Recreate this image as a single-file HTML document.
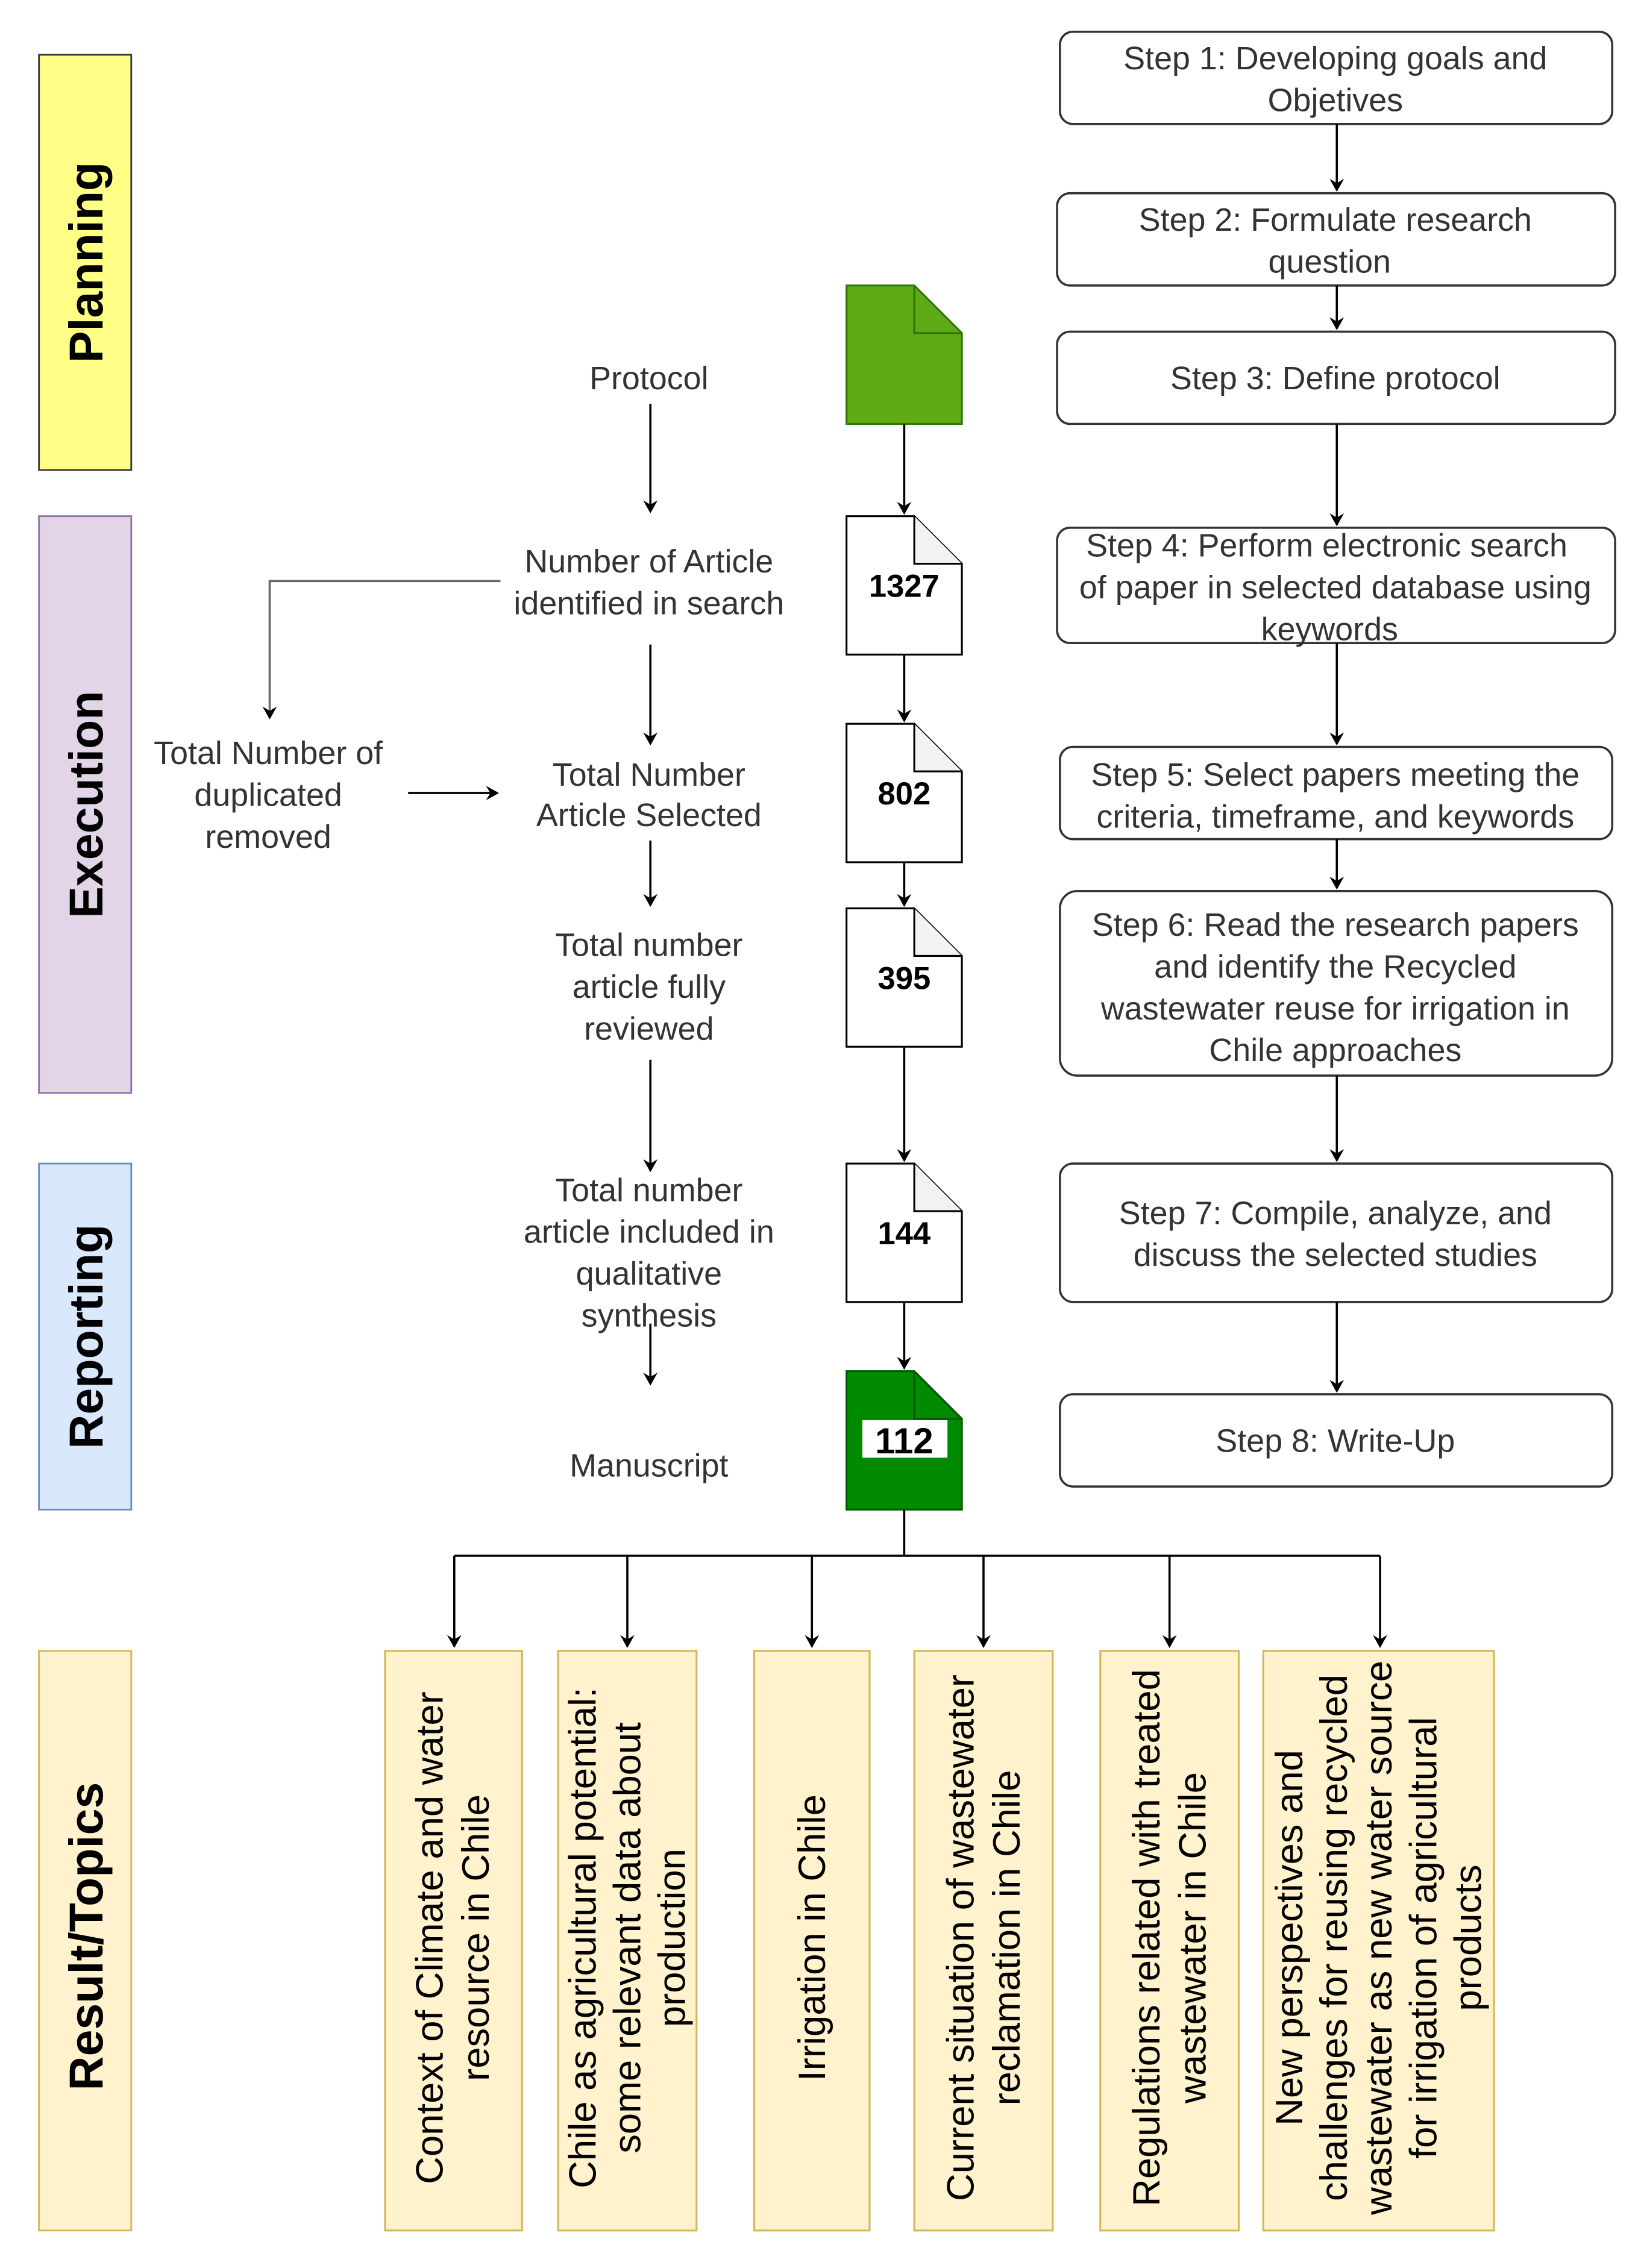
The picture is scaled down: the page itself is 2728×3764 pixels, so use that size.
<!DOCTYPE html>
<html><head><meta charset="utf-8"><style>
html,body{margin:0;padding:0;background:#fff;}
svg{display:block;}
text{font-family:"Liberation Sans",Arial,sans-serif;}
</style></head><body>
<svg width="2728" height="3764" viewBox="0 0 1140 1573" xmlns="http://www.w3.org/2000/svg">
<defs>
<marker id="a" markerWidth="10" markerHeight="10" refX="8" refY="5" orient="auto" markerUnits="userSpaceOnUse">
<path d="M0,0 L9,5 L0,10 L3,5 Z" fill="#000"/>
</marker>
</defs>
<rect width="1140" height="1573" fill="#fff"/>

<rect x="27" y="38" width="64" height="288" fill="#ffff88" stroke="#36393d" stroke-width="1.2"/>
<rect x="27" y="358" width="64" height="400" fill="#e1d5e7" stroke="#9673a6" stroke-width="1.2"/>
<rect x="27" y="807" width="64" height="240" fill="#dae8fc" stroke="#6c8ebf" stroke-width="1.2"/>
<rect x="27" y="1145" width="64" height="402" fill="#fff2cc" stroke="#d6b656" stroke-width="1.2"/>
<g font-weight="bold" font-size="33" fill="#000" text-anchor="middle">
<text transform="translate(71,182) rotate(-90)">Planning</text>
<text transform="translate(71,558) rotate(-90)">Execution</text>
<text transform="translate(71,927) rotate(-90)">Reporting</text>
<text transform="translate(71,1343) rotate(-90)">Result/Topics</text>
</g>

<g fill="#fff" stroke="#333" stroke-width="1.5">
<rect x="735" y="22" width="383" height="64" rx="9"/>
<rect x="733" y="134" width="387" height="64" rx="9"/>
<rect x="733" y="230" width="387" height="64" rx="9"/>
<rect x="733" y="366" width="387" height="80" rx="9"/>
<rect x="735" y="518" width="383" height="64" rx="9"/>
<rect x="735" y="618" width="383" height="128" rx="12"/>
<rect x="735" y="807" width="383" height="96" rx="9"/>
<rect x="735" y="967" width="383" height="64" rx="9"/>
</g>
<g font-size="22.5" fill="#333" text-anchor="middle">
<text x="926" y="48">Step 1: Developing goals and</text>
<text x="926" y="77">Objetives</text>
<text x="926" y="160">Step 2: Formulate research</text>
<text x="922" y="189">question</text>
<text x="926" y="270">Step 3: Define protocol</text>
<text x="920" y="386">Step 4: Perform electronic search</text>
<text x="926" y="415">of paper in selected database using</text>
<text x="922" y="444">keywords</text>
<text x="926" y="545">Step 5: Select papers meeting the</text>
<text x="926" y="574">criteria, timeframe, and keywords</text>
<text x="926" y="649">Step 6: Read the research papers</text>
<text x="926" y="678">and identify the Recycled</text>
<text x="926" y="707">wastewater reuse for irrigation in</text>
<text x="926" y="736">Chile approaches</text>
<text x="926" y="849">Step 7: Compile, analyze, and</text>
<text x="926" y="878">discuss the selected studies</text>
<text x="926" y="1007">Step 8: Write-Up</text>
</g>
<g stroke="#000" stroke-width="1.5" marker-end="url(#a)">
<line x1="927" y1="86" x2="927" y2="132"/>
<line x1="927" y1="198" x2="927" y2="228"/>
<line x1="927" y1="294" x2="927" y2="364"/>
<line x1="927" y1="446" x2="927" y2="516"/>
<line x1="927" y1="582" x2="927" y2="616"/>
<line x1="927" y1="746" x2="927" y2="805"/>
<line x1="927" y1="903" x2="927" y2="965"/>
</g>

<g stroke="#000" stroke-width="1.3">
<path d="M587,198 H634 L667,231 V294 H587 Z" fill="#60a917" stroke="#2d7600"/>
<path d="M634,198 V231 H667" fill="none" stroke="#2d7600"/>
<path d="M587,358 H634 L667,391 V454 H587 Z" fill="#fff"/>
<path d="M634,358 V391 H667" fill="#f2f2f2"/>
<path d="M587,502 H634 L667,535 V598 H587 Z" fill="#fff"/>
<path d="M634,502 V535 H667" fill="#f2f2f2"/>
<path d="M587,630 H634 L667,663 V726 H587 Z" fill="#fff"/>
<path d="M634,630 V663 H667" fill="#f2f2f2"/>
<path d="M587,807 H634 L667,840 V903 H587 Z" fill="#fff"/>
<path d="M634,807 V840 H667" fill="#f2f2f2"/>
<path d="M587,951 H634 L667,984 V1047 H587 Z" fill="#008a00" stroke="#005700"/>
<path d="M634,951 V984 H667" fill="none" stroke="#005700"/>
</g>
<rect x="598" y="985" width="59" height="26" fill="#fff"/>
<g font-size="22" font-weight="bold" fill="#000" text-anchor="middle">
<text x="627" y="414">1327</text>
<text x="627" y="558">802</text>
<text x="627" y="686">395</text>
<text x="627" y="863">144</text>
<text x="627" y="1008" font-size="25">112</text>
</g>
<g stroke="#000" stroke-width="1.5" marker-end="url(#a)">
<line x1="627" y1="294" x2="627" y2="356"/>
<line x1="627" y1="454" x2="627" y2="500"/>
<line x1="627" y1="598" x2="627" y2="628"/>
<line x1="627" y1="726" x2="627" y2="805"/>
<line x1="627" y1="903" x2="627" y2="949"/>
</g>

<g font-size="22.5" fill="#333" text-anchor="middle">
<text x="450" y="270">Protocol</text>
<text x="450" y="397">Number of Article</text>
<text x="450" y="426">identified in search</text>
<text x="450" y="545">Total Number</text>
<text x="450" y="573">Article Selected</text>
<text x="450" y="663">Total number</text>
<text x="450" y="692">article fully</text>
<text x="450" y="721">reviewed</text>
<text x="450" y="833">Total number</text>
<text x="450" y="862">article included in</text>
<text x="450" y="891">qualitative</text>
<text x="450" y="920">synthesis</text>
<text x="450" y="1024">Manuscript</text>
<text x="186" y="530">Total Number of</text>
<text x="186" y="559">duplicated</text>
<text x="186" y="588">removed</text>
</g>
<g stroke="#000" stroke-width="1.5" fill="none" marker-end="url(#a)">
<line x1="451" y1="280" x2="451" y2="355"/>
<line x1="451" y1="447" x2="451" y2="516"/>
<line x1="451" y1="583" x2="451" y2="628"/>
<line x1="451" y1="735" x2="451" y2="812"/>
<line x1="451" y1="918" x2="451" y2="960"/>
<line x1="283" y1="550" x2="345" y2="550"/>
</g>
<path d="M347,403 H187 V498" stroke="#666" stroke-width="1.5" fill="none"/>
<path d="M182,490 L187,499 L192,490 L187,493 Z" fill="#000"/>

<g stroke="#000" stroke-width="1.5" fill="none">
<line x1="627" y1="1047" x2="627" y2="1079"/>
<line x1="315" y1="1079" x2="957" y2="1079"/>
</g>
<g stroke="#000" stroke-width="1.5" marker-end="url(#a)">
<line x1="315" y1="1079" x2="315" y2="1142"/>
<line x1="435" y1="1079" x2="435" y2="1142"/>
<line x1="563" y1="1079" x2="563" y2="1142"/>
<line x1="682" y1="1079" x2="682" y2="1142"/>
<line x1="811" y1="1079" x2="811" y2="1142"/>
<line x1="957" y1="1079" x2="957" y2="1142"/>
</g>
<g fill="#fff2cc" stroke="#d6b656" stroke-width="1.3">
<rect x="267" y="1145" width="95" height="402"/>
<rect x="387" y="1145" width="96" height="402"/>
<rect x="523" y="1145" width="80" height="402"/>
<rect x="634" y="1145" width="96" height="402"/>
<rect x="763" y="1145" width="96" height="402"/>
<rect x="876" y="1145" width="160" height="402"/>
</g>
<g font-size="26.5" fill="#000" text-anchor="middle">
<text transform="translate(314,1344) rotate(-90)"><tspan x="0" y="-7">Context of Climate and water</tspan><tspan x="0" y="25">resource in Chile</tspan></text>
<text transform="translate(435,1344) rotate(-90)"><tspan x="0" y="-22">Chile as agricultural potential:</tspan><tspan x="0" y="9">some relevant data about</tspan><tspan x="0" y="40">production</tspan></text>
<text transform="translate(563,1344) rotate(-90)"><tspan x="0" y="9">Irrigation in Chile</tspan></text>
<text transform="translate(682,1344) rotate(-90)"><tspan x="0" y="-7">Current situation of wastewater</tspan><tspan x="0" y="25">reclamation in Chile</tspan></text>
<text transform="translate(811,1344) rotate(-90)"><tspan x="0" y="-7">Regulations related with treated</tspan><tspan x="0" y="25">wastewater in Chile</tspan></text>
<text transform="translate(956,1344) rotate(-90)"><tspan x="0" y="-53">New perspectives and</tspan><tspan x="0" y="-22">challenges for reusing recycled</tspan><tspan x="0" y="9">wastewater as new water source</tspan><tspan x="0" y="40">for irrigation of agricultural</tspan><tspan x="0" y="71">products</tspan></text>
</g>
</svg>
</body></html>
